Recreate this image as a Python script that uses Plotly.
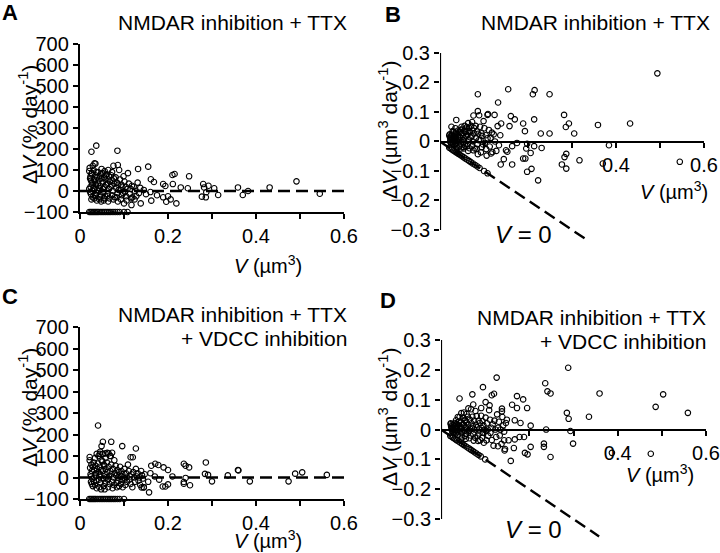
import plotly.graph_objects as go

# ---------------- Panel A: NMDAR inhibition + TTX, ΔV in % day^-1 ----------------
a_vol = [0.021,0.023,0.024,0.025,0.026,0.027,0.028,0.029,0.022,0.024,0.026,0.028,0.029,0.023,0.027,0.025,0.021,
         0.031,0.032,0.033,0.034,0.035,0.036,0.037,0.038,0.039,0.031,0.033,0.035,0.037,0.039,0.034,0.036,
         0.041,0.042,0.043,0.044,0.045,0.046,0.047,0.048,0.049,0.041,0.043,0.045,0.047,0.049,
         0.051,0.052,0.053,0.054,0.055,0.056,0.057,0.058,0.059,0.052,0.054,0.056,0.058,
         0.061,0.062,0.063,0.064,0.065,0.066,0.067,0.068,0.069,0.062,0.064,0.066,
         0.071,0.072,0.073,0.074,0.075,0.076,0.077,0.078,0.079,0.073,0.076,
         0.081,0.082,0.083,0.084,0.085,0.086,0.087,0.088,0.089,
         0.091,0.092,0.093,0.094,0.095,0.096,0.098,0.099,
         0.101,0.102,0.104,0.105,0.106,0.108,0.109,
         0.111,0.113,0.115,0.116,0.118,0.119,
         0.122,0.125,0.128,0.131,0.134,0.137,
         0.026,0.037,0.085,0.033,0.086,0.132,0.155,0.210,0.215,0.248,0.161,0.168,0.189,0.194,0.211,0.229,0.245,
         0.280,0.282,0.292,0.305,0.314,0.287,0.277,0.286,0.359,0.370,0.431,0.492,0.545,0.382,0.219,0.196,0.206,
         0.189,0.162,0.138,0.124,0.117,0.100,0.150,0.160,0.145,0.175,0.200,
         0.021,0.024,0.027,0.030,0.033,0.036,0.039,0.042,0.046,0.050,0.054,0.058,0.062,0.066,0.070,0.075,
         0.080,0.085,0.090,0.100,0.108]
a_pct = [95,60,20,-15,80,40,0,-30,110,70,-40,30,120,-5,85,50,10,
         100,55,10,-25,75,30,-10,-45,65,15,-35,130,90,5,45,-20,
         90,50,0,-40,70,25,-20,-50,60,35,15,-30,80,105,
         85,40,-5,-45,65,20,-25,55,30,10,-35,95,75,
         80,35,-15,-50,55,10,-35,45,20,-25,100,70,
         75,25,-20,50,0,-40,60,35,-30,90,120,
         65,15,-30,40,-10,-50,30,5,100,
         55,5,-40,30,-20,20,-10,70,
         45,-5,20,-25,-45,10,85,
         35,-15,10,-35,25,-30,
         20,0,-25,40,-10,15,
         187,216,192,132,124,105,116,76,81,70,56,43,33,24,33,17,13,
         33,17,25,13,-19,-6,-27,-30,17,-19,17,46,-13,0,-59,-51,-40,
         -30,-46,-59,-40,-67,-59,-15,-5,5,-20,-25,
         -100,-100,-100,-100,-100,-100,-100,-100,-100,-100,-100,-100,-100,-100,-100,-100,
         -100,-100,-100,-100,-100]

# ---------------- Panel B: same condition, ΔV in µm^3 day^-1 ----------------
b_vol = [0.021,0.023,0.024,0.025,0.026,0.027,0.028,0.029,0.022,0.024,0.026,0.028,0.029,0.023,0.027,0.025,
         0.031,0.032,0.033,0.034,0.035,0.036,0.037,0.038,0.039,0.031,0.033,0.035,0.037,0.039,0.034,0.036,
         0.041,0.042,0.043,0.044,0.045,0.046,0.047,0.048,0.049,0.041,0.043,0.045,0.047,0.049,
         0.051,0.052,0.053,0.054,0.055,0.056,0.057,0.058,0.059,0.052,0.054,0.056,0.058,
         0.061,0.062,0.063,0.064,0.065,0.066,0.067,0.068,0.069,0.062,0.064,0.066,
         0.071,0.072,0.073,0.074,0.075,0.076,0.077,0.078,0.079,0.073,0.076,
         0.081,0.082,0.083,0.084,0.085,0.086,0.087,0.088,0.089,
         0.091,0.092,0.093,0.094,0.095,0.096,0.098,0.099,
         0.101,0.102,0.104,0.105,0.106,0.108,0.109,
         0.111,0.113,0.115,0.116,0.118,0.119,
         0.122,0.125,0.128,0.131,0.134,0.137,
         0.494,0.086,0.155,0.211,0.215,0.249,0.132,0.086,0.108,0.124,0.161,0.170,0.189,0.214,0.282,0.293,0.286,
         0.359,0.432,0.305,0.249,0.229,0.193,0.158,0.139,0.037,0.026,
         0.164,0.198,0.214,0.231,0.196,0.206,0.189,0.194,0.198,0.164,0.138,0.153,0.287,0.283,0.277,0.287,
         0.317,0.370,0.384,0.545,0.223,0.208,0.150,0.145,0.175,
         0.021,0.024,0.027,0.030,0.033,0.036,0.039,0.042,0.046,0.050,0.054,0.058,0.062,0.066,0.070,0.075,
         0.080,0.085,0.090,0.100,0.108]
b_dv = [0.020,0.012,0.004,-0.004,0.020,0.010,0.000,-0.008,0.024,0.016,-0.010,0.008,0.035,-0.001,0.023,0.013,
        0.031,0.018,0.003,-0.008,0.026,0.011,-0.004,-0.017,0.025,0.005,-0.012,0.045,0.033,0.002,0.015,-0.007,
        0.037,0.021,0.000,-0.018,0.031,0.012,-0.009,-0.024,0.029,0.014,0.006,-0.014,0.038,0.050,
        0.043,0.021,-0.003,-0.024,0.036,0.011,-0.014,0.032,0.018,0.005,-0.019,0.053,0.043,
        0.049,0.022,-0.009,-0.032,0.036,0.007,-0.023,0.031,0.014,-0.016,0.062,0.046,
        0.053,0.018,-0.015,0.037,0.000,-0.030,0.046,0.027,-0.024,0.066,0.088,
        0.053,0.012,-0.025,0.034,-0.009,-0.043,0.026,0.004,0.089,
        0.050,0.005,-0.037,0.028,-0.019,0.019,-0.010,0.069,
        0.045,-0.005,0.021,-0.026,-0.048,0.011,0.093,
        0.039,-0.017,0.012,-0.041,0.030,-0.036,
        0.024,0.000,-0.032,0.052,-0.013,0.021,
        0.231,0.160,0.177,0.160,0.174,0.160,0.132,0.103,0.090,0.090,0.086,0.075,0.061,0.075,0.090,0.061,0.049,
        0.056,0.061,0.027,0.027,0.027,0.035,0.052,0.061,0.073,0.050,
        -0.016,-0.008,-0.016,-0.022,-0.024,-0.039,-0.058,-0.058,-0.103,-0.078,-0.078,-0.035,-0.042,-0.053,-0.078,-0.092,
        -0.064,-0.075,-0.013,-0.069,-0.132,-0.093,-0.030,-0.060,-0.005,
        -0.021,-0.024,-0.027,-0.030,-0.033,-0.036,-0.039,-0.042,-0.046,-0.050,-0.054,-0.058,-0.062,-0.066,-0.070,-0.075,
        -0.080,-0.085,-0.090,-0.100,-0.108]

# ---------------- Panel C: + VDCC inhibition, ΔV in % day^-1 ----------------
c_vol = [0.022,0.023,0.024,0.025,0.026,0.027,0.028,0.029,0.022,0.025,0.027,0.029,
         0.031,0.032,0.033,0.034,0.035,0.036,0.037,0.038,0.039,0.032,0.034,0.036,0.038,
         0.041,0.042,0.043,0.044,0.045,0.046,0.047,0.048,0.049,0.042,0.044,0.046,0.048,
         0.051,0.052,0.053,0.054,0.055,0.056,0.057,0.058,0.059,0.052,0.054,0.056,0.058,
         0.061,0.062,0.063,0.064,0.065,0.066,0.067,0.068,0.069,0.062,0.064,
         0.071,0.072,0.073,0.074,0.075,0.076,0.077,0.078,0.079,0.073,
         0.081,0.082,0.083,0.084,0.085,0.086,0.087,0.088,0.089,
         0.091,0.092,0.093,0.094,0.095,0.096,0.097,0.099,
         0.101,0.102,0.103,0.104,0.106,0.107,0.109,
         0.111,0.112,0.114,0.115,0.117,0.119,
         0.121,0.123,0.125,0.127,0.129,
         0.131,0.133,0.135,0.137,0.139,
         0.141,0.143,0.145,0.147,
         0.041,0.052,0.071,0.049,0.096,0.127,0.045,0.058,0.065,0.070,0.115,0.120,0.359,0.286,0.236,0.240,0.248,
         0.200,0.190,0.178,0.171,0.162,0.284,0.291,0.336,0.300,0.250,0.236,0.236,0.240,0.386,0.474,0.489,0.505,
         0.561,0.200,0.194,0.188,0.157,0.140,0.145,0.170,0.180,0.160,0.155,0.360,0.210,
         0.021,0.024,0.027,0.030,0.033,0.036,0.040,0.044,0.048,0.052,0.056,0.060,0.064,0.068,0.072,0.076,
         0.080,0.085,0.090,0.100]
c_pct = [80,45,15,-20,60,30,-5,-40,95,5,-30,50,
         70,35,0,-35,55,20,-15,-50,40,-20,90,10,110,
         65,25,-10,-45,50,15,-25,-55,80,100,5,120,35,
         75,30,-5,-40,55,15,-25,90,0,110,60,-55,40,
         70,25,-10,-45,50,5,-30,100,30,115,-5,
         60,15,-20,-50,40,0,-35,80,20,115,
         55,10,-25,-45,35,0,-15,25,-40,
         50,5,-30,30,-10,15,-45,0,
         40,-5,-35,20,0,-20,60,
         30,-10,5,-30,15,-45,
         25,0,-20,40,5,
         20,-15,0,-35,30,
         10,-5,-45,15,
         242,166,166,146,146,135,110,112,112,100,94,94,35,70,64,55,47,
         35,47,58,64,55,17,12,10,-18,-36,-21,-29,-2,-18,-18,18,24,
         12,-32,-42,-42,-69,-46,-46,5,-10,20,-20,33,5,
         -100,-100,-100,-100,-100,-100,-100,-100,-100,-100,-100,-100,-100,-100,-100,-100,
         -100,-100,-100,-100]

# ---------------- Panel D: + VDCC inhibition, ΔV in µm^3 day^-1 ----------------
d_vol = [0.022,0.023,0.024,0.025,0.026,0.027,0.028,0.029,0.022,0.025,0.027,0.029,
         0.031,0.032,0.033,0.034,0.035,0.036,0.037,0.038,0.039,0.032,0.034,0.036,0.038,
         0.041,0.042,0.043,0.044,0.045,0.046,0.047,0.048,0.049,0.042,0.044,0.046,0.048,
         0.051,0.052,0.053,0.054,0.055,0.056,0.057,0.058,0.059,0.052,0.054,0.056,0.058,
         0.061,0.062,0.063,0.064,0.065,0.066,0.067,0.068,0.069,0.062,0.064,
         0.071,0.072,0.073,0.074,0.075,0.076,0.077,0.078,0.079,0.073,
         0.081,0.082,0.083,0.084,0.085,0.086,0.087,0.088,0.089,
         0.091,0.092,0.093,0.094,0.095,0.096,0.097,0.099,
         0.101,0.102,0.103,0.104,0.106,0.107,0.109,
         0.111,0.112,0.114,0.115,0.117,0.119,
         0.121,0.123,0.125,0.127,0.129,
         0.131,0.133,0.135,0.137,0.139,
         0.141,0.143,0.145,0.147,
         0.288,0.126,0.095,0.236,0.241,0.248,0.359,0.503,0.486,0.559,0.335,0.285,0.289,0.071,0.042,0.115,0.120,
         0.172,0.186,0.161,0.172,0.195,0.138,0.138,0.149,0.167,0.180,0.203,0.238,0.101,0.110,0.091,
         0.293,0.299,0.233,0.233,0.248,0.203,0.190,0.196,0.158,0.188,0.178,0.167,0.143,0.153,0.144,0.129,
         0.387,0.475,0.165,
         0.021,0.024,0.027,0.030,0.033,0.036,0.040,0.044,0.048,0.052,0.056,0.060,0.064,0.068,0.072,0.076,
         0.080,0.085,0.090,0.100]
d_dv = [0.018,0.010,0.004,-0.005,0.016,0.008,-0.001,-0.012,0.021,0.001,-0.008,0.015,
        0.022,0.011,0.000,-0.012,0.019,0.007,-0.006,-0.019,0.016,-0.006,0.031,0.004,0.042,
        0.027,0.011,-0.004,-0.020,0.023,0.007,-0.012,-0.026,0.039,0.042,0.002,0.055,0.017,
        0.038,0.016,-0.003,-0.022,0.030,0.008,-0.014,0.052,0.000,0.057,0.032,-0.031,0.023,
        0.043,0.016,-0.006,-0.029,0.033,0.003,-0.020,0.068,0.021,0.071,-0.003,
        0.043,0.011,-0.015,-0.037,0.030,0.000,-0.027,0.062,0.016,0.084,
        0.045,0.008,-0.021,-0.038,0.030,0.000,-0.013,0.022,-0.036,
        0.046,0.005,-0.028,0.028,-0.010,0.014,-0.044,0.000,
        0.040,-0.005,-0.036,0.021,0.000,-0.021,0.065,
        0.033,-0.011,0.006,-0.035,0.018,-0.054,
        0.030,0.000,-0.025,0.051,0.006,
        0.026,-0.020,0.000,-0.048,0.042,
        0.014,-0.007,-0.065,0.022,
        0.207,0.174,0.142,0.155,0.128,0.121,0.121,0.118,0.076,0.056,0.043,0.056,0.036,0.118,0.104,0.115,0.120,
        0.112,0.101,0.083,0.072,0.072,0.070,0.061,0.033,0.031,0.022,0.013,0.000,0.092,0.081,0.072,
        -0.005,-0.047,-0.047,-0.058,-0.092,-0.058,-0.078,-0.083,-0.105,-0.025,-0.025,-0.033,-0.036,-0.036,-0.070,-0.056,
        -0.078,-0.081,-0.062,
        -0.021,-0.024,-0.027,-0.030,-0.033,-0.036,-0.040,-0.044,-0.048,-0.052,-0.056,-0.060,-0.064,-0.068,-0.072,-0.076,
        -0.080,-0.085,-0.090,-0.100]

# reference lines
zero_line_x = [0, 0.6]
zero_line_y = [0, 0]
vzero_b_x = [0, 0.333]
vzero_d_x = [0, 0.358]

# tick labels
pct_ticks = [-100, 0, 100, 200, 300, 400, 500, 600, 700]
abs_ticks = [-0.3, -0.2, -0.1, 0, 0.1, 0.2, 0.3]
abs_ticktext = ["\u22120.3", "\u22120.2", "\u22120.1", "0", "0.1", "0.2", "0.3"]
x_ticks_pct = [0, 0.2, 0.4, 0.6]
x_ticktext_pct = ["0", "0.2", "0.4", "0.6"]
x_minor_pct = [0.1, 0.3, 0.5]
x_ticks_abs = [0.4, 0.6]
x_ticktext_abs = ["0.4", "0.6"]
x_minor_abs = [0.1, 0.2, 0.3, 0.5]

FONT = "Liberation Sans, Arial, Helvetica, sans-serif"
W, H = 720, 553


def px(x):
    return x / W


def py(y):
    return 1 - y / H


fig = go.Figure()

marker = dict(symbol="circle-open", size=5.5, color="black", line=dict(width=1.1, color="black"))
dash_line = dict(color="black", width=2.4, dash="12px,6px")


def add_points(x, y, xa, ya):
    fig.add_trace(go.Scatter(x=x, y=y, mode="markers", marker=marker, xaxis=xa, yaxis=ya,
                             cliponaxis=False, showlegend=False, hoverinfo="skip"))


def add_line(x, y, xa, ya):
    fig.add_trace(go.Scatter(x=x, y=y, mode="lines", line=dash_line, xaxis=xa, yaxis=ya,
                             showlegend=False, hoverinfo="skip"))


# Panel A
add_line(zero_line_x, zero_line_y, "x", "y")
add_points(a_vol, a_pct, "x", "y")
# Panel B
add_line(vzero_b_x, [-v for v in vzero_b_x], "x2", "y2")
add_points(b_vol, b_dv, "x2", "y2")
# Panel C
add_line(zero_line_x, zero_line_y, "x3", "y3")
add_points(c_vol, c_pct, "x3", "y3")
# Panel D
add_line(vzero_d_x, [-v for v in vzero_d_x], "x4", "y4")
add_points(d_vol, d_dv, "x4", "y4")

axis_common = dict(showgrid=False, zeroline=False, ticks="outside", ticklen=5, tickwidth=2,
                   tickcolor="black", linecolor="black", linewidth=2.2, automargin=False,
                   tickfont=dict(family=FONT, size=20, color="black"), fixedrange=True)
minor_common = dict(ticks="outside", ticklen=5, tickwidth=2, tickcolor="black", showgrid=False)

fig.update_layout(
    width=W, height=H, autosize=False,
    margin=dict(l=0, r=0, t=0, b=0, pad=0, autoexpand=False),
    paper_bgcolor="white", plot_bgcolor="white",
    font=dict(family=FONT, color="black"),
    xaxis=dict(domain=[px(80), px(344)], range=[0, 0.6], anchor="y", showline=True,
               tickvals=x_ticks_pct, ticktext=x_ticktext_pct,
               minor=dict(tickvals=x_minor_pct, **minor_common), **axis_common),
    yaxis=dict(domain=[py(212), py(44)], range=[-100, 700], anchor="x", showline=True,
               tickvals=pct_ticks, **axis_common),
    xaxis2=dict(domain=[px(440), px(704)], range=[0, 0.6], anchor="free", position=py(142),
                showline=True, tickvals=x_ticks_abs, ticktext=x_ticktext_abs,
                minor=dict(tickvals=x_minor_abs, **minor_common), **axis_common),
    yaxis2=dict(domain=[py(241.7), py(53)], range=[-0.34, 0.3], anchor="x2", showline=False,
                tickvals=abs_ticks, ticktext=abs_ticktext, **axis_common),
    xaxis3=dict(domain=[px(80), px(344)], range=[0, 0.6], anchor="y3", showline=True,
                tickvals=x_ticks_pct, ticktext=x_ticktext_pct,
                minor=dict(tickvals=x_minor_pct, **minor_common), **axis_common),
    yaxis3=dict(domain=[py(499), py(327)], range=[-100, 700], anchor="x3", showline=True,
                tickvals=pct_ticks, **axis_common),
    xaxis4=dict(domain=[px(441), px(706)], range=[0, 0.6], anchor="free", position=py(430),
                showline=True, tickvals=x_ticks_abs, ticktext=x_ticktext_abs,
                minor=dict(tickvals=x_minor_abs, **minor_common), **axis_common),
    yaxis4=dict(domain=[py(540), py(340)], range=[-0.37, 0.3], anchor="x4", showline=False,
                tickvals=abs_ticks, ticktext=abs_ticktext, **axis_common),
)

# y-axis lines for B and D (stop at -0.3)
for xr, yr in [("x2", "y2"), ("x4", "y4")]:
    fig.add_shape(type="line", xref=xr, yref=yr, x0=0, x1=0, y0=-0.3, y1=0.3,
                  line=dict(color="black", width=2.2))

ann = []


def text(x, y, s, size, xanchor="center", bold=False, angle=0):
    ann.append(dict(x=px(x), y=py(y), xref="paper", yref="paper", text=("<b>%s</b>" % s) if bold else s,
                    showarrow=False, xanchor=xanchor, yanchor="middle", textangle=angle,
                    font=dict(family=FONT, size=size, color="black")))


# panel letters
text(10, 13, "A", 22, bold=True)
text(393, 14, "B", 22, bold=True)
text(10, 296, "C", 22, bold=True)
text(388, 300, "D", 22, bold=True)

# titles
text(349, 22, "NMDAR inhibition + TTX", 21, xanchor="right")
text(712, 23, "NMDAR inhibition + TTX", 21, xanchor="right")
text(349, 314, "NMDAR inhibition + TTX", 21, xanchor="right")
text(349, 338, "+ VDCC inhibition", 21, xanchor="right")
text(708, 317, "NMDAR inhibition + TTX", 21, xanchor="right")
text(708, 341, "+ VDCC inhibition", 21, xanchor="right")

# axis titles
vx = "<i>V</i> (\u00b5m<sup>3</sup>)"
text(268, 264, vx, 20)
text(674, 190, vx, 20)
text(268, 539, vx, 20)
text(660, 473, vx, 20)

text(28, 125, "\u0394<i>V</i> (% day<sup>-1</sup>)", 21, angle=-90)
text(388, 130, "\u0394<i>V</i> (\u00b5m<sup>3</sup> day<sup>-1</sup>)", 21, angle=-90)
text(28, 408, "\u0394<i>V</i> (% day<sup>-1</sup>)", 21, angle=-90)
text(388, 417, "\u0394<i>V</i> (\u00b5m<sup>3</sup> day<sup>-1</sup>)", 21, angle=-90)

# V = 0 labels
text(523, 235, "<i>V</i> = 0", 24)
text(533, 529, "<i>V</i> = 0", 24)

fig.update_layout(annotations=ann)

fig.write_html("out.html", config={"displayModeBar": False, "staticPlot": True},
               post_script="document.body.style.margin='0px';document.body.style.padding='0px';document.body.style.overflow='hidden';")
